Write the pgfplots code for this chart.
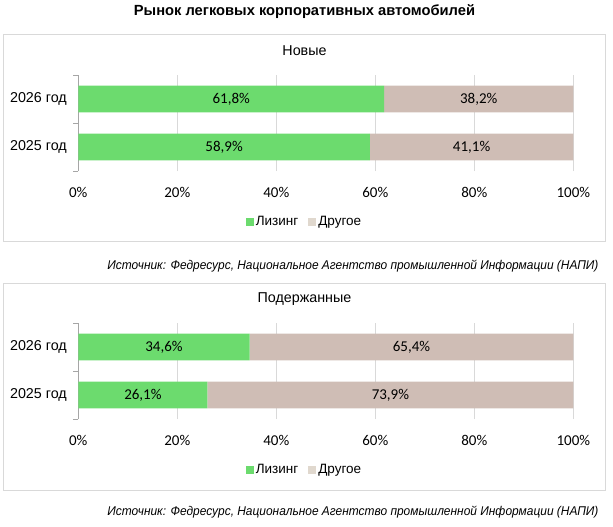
\documentclass[border=0pt]{standalone}
\usepackage{pgfplots}
\pgfplotsset{compat=1.18}
\usepackage{fontspec}
\setmainfont{Liberation Sans}
\newfontfamily\calfont{Carlito}
\newfontfamily\srcfont[FakeStretch=0.94]{Liberation Sans}
\definecolor{lgreen}{HTML}{6CDB6E}
\definecolor{ltan}{HTML}{CFBDB5}
\definecolor{legtan}{HTML}{E0D8CE}
\definecolor{gridc}{HTML}{D9D9D9}
\definecolor{axisc}{HTML}{A6A6A6}

\pgfplotsset{
  panel/.style={
    xbar stacked, width=495pt, height=96pt, scale only axis,
    xmin=0, xmax=100, ymin=-0.5, ymax=1.5,
    bar width=26.7pt,
    axis lines*=left, axis line style={-},
    x axis line style={draw=none}, y axis line style={draw=axisc},
    xtick={0,20,40,60,80,100},
    xticklabels={0\%,20\%,40\%,60\%,80\%,100\%},
    xticklabel style={font=\calfont\fontsize{15}{15}\selectfont, anchor=center, yshift=-21pt},
    ytick={0,1}, yticklabels={2025 год,2026 год},
    yticklabel style={font=\fontsize{14.3}{14}\selectfont, xshift=-8pt},
    minor ytick={-0.5,0.5,1.5},
    major tick length=0pt, minor tick length=5pt, tick align=outside,
    tick style={draw=axisc},
    xmajorgrids, grid style={draw=gridc, line width=0.8pt},
    visualization depends on={rawx \as \rawx},
    nodes near coords={\pgfmathprintnumber[fixed,fixed zerofill,precision=1,use comma,assume math mode=true]{\rawx}\%},
    every node near coord/.append style={font=\calfont\fontsize{15}{15}\selectfont, anchor=center},
    legend style={at={(0.457,-0.531)}, anchor=center, draw=none, fill=none,
       legend columns=2, font=\fontsize{13.5}{13.5}\selectfont,
       /tikz/every even column/.append style={column sep=8pt}},
  }
}

\begin{document}
\begin{tikzpicture}[x=1pt,y=1pt]
\useasboundingbox (0,0) rectangle (613,-527);
\node[font=\bfseries\fontsize{14.7}{14.7}\selectfont] at (304.5,-12) {Рынок легковых корпоративных автомобилей};
% panel 1
\draw[gridc, line width=1pt] (3.5,-35) rectangle (605.5,-241);
\node[font=\fontsize{14.3}{14}\selectfont] at (304.5,-51) {Новые};
\begin{axis}[panel, at={(78.3pt,-171pt)}, anchor=south west]
\addplot[fill=lgreen, draw=none, legend image code/.code={\fill[lgreen] (0pt,-4pt) rectangle (8pt,4pt);}]
  coordinates {(58.9,0) (61.8,1)};
\addplot[fill=ltan, draw=none, legend image code/.code={\fill[legtan] (0pt,-4pt) rectangle (8pt,4pt);}]
  coordinates {(41.1,0) (38.2,1)};
\legend{Лизинг, Другое}
\end{axis}
\node[anchor=east, font=\srcfont\itshape\fontsize{12.7}{12.7}\selectfont] at (602,-266) {Источник: Федресурс, Национальное Агентство промышленной Информации (НАПИ)};
% panel 2
\draw[gridc, line width=1pt] (3.5,-283) rectangle (605.5,-490);
\node[font=\fontsize{14.3}{14}\selectfont] at (304.5,-299) {Подержанные};
\begin{axis}[panel, at={(78.3pt,-419pt)}, anchor=south west]
\addplot[fill=lgreen, draw=none, legend image code/.code={\fill[lgreen] (0pt,-4pt) rectangle (8pt,4pt);}]
  coordinates {(26.1,0) (34.6,1)};
\addplot[fill=ltan, draw=none, legend image code/.code={\fill[legtan] (0pt,-4pt) rectangle (8pt,4pt);}]
  coordinates {(73.9,0) (65.4,1)};
\legend{Лизинг, Другое}
\end{axis}
\node[anchor=east, font=\srcfont\itshape\fontsize{12.7}{12.7}\selectfont] at (602,-512) {Источник: Федресурс, Национальное Агентство промышленной Информации (НАПИ)};
\end{tikzpicture}
\end{document}
